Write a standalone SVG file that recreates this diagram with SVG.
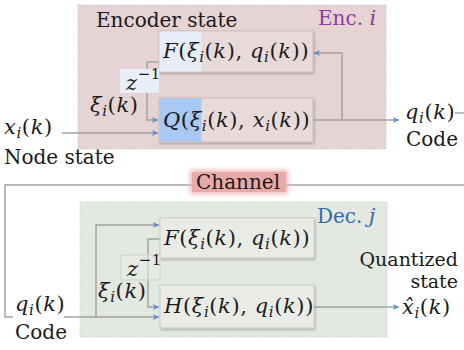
<svg xmlns="http://www.w3.org/2000/svg" width="464" height="350" viewBox="0 0 464 350">
<defs>
<style>
text{font-family:"DejaVu Serif","Liberation Serif",serif;fill:#1a1a1a}
.lbl{font-size:20px}
.m{font-size:21px;font-style:italic;letter-spacing:0.6px}
.r{font-style:normal}
.s{font-size:15px}
.q{font-size:19px}
.ln{fill:none;stroke:#a3a3a3;stroke-width:1.5}
.encbg{fill:#e6d4d4;stroke:#d6c2c2;stroke-width:1;stroke-dasharray:1.5 1.5}
.decbg{fill:#e3e8e0;stroke:#d0d6cc;stroke-width:1;stroke-dasharray:1.5 1.5}
.ebox{fill:#e9dada;stroke:#cdbcbc;stroke-width:1}
.dbox{fill:#e9ece6;stroke:#c9cdc5;stroke-width:1}
</style>
<filter id="sh" x="-10%" y="-10%" width="130%" height="140%">
<feDropShadow dx="1" dy="1.5" stdDeviation="0.8" flood-color="#000" flood-opacity="0.25"/>
</filter>
<filter id="glow" x="-20%" y="-40%" width="140%" height="180%">
<feGaussianBlur stdDeviation="2.5"/>
</filter>
<marker id="ar" markerUnits="userSpaceOnUse" markerWidth="8" markerHeight="8" refX="6" refY="4" orient="auto">
<path d="M0,1 L6,4 L0,7 L1.5,4 Z" fill="#5a8fd4"/>
</marker>
</defs>

<g id="encoder">
<rect class="encbg" x="78" y="5" width="308" height="144"/>
<text class="lbl" x="96" y="27">Encoder state</text>
<text class="lbl" x="318" y="25" style="fill:#8e3a9e">Enc. <tspan class="m" style="fill:#8e3a9e">i</tspan></text>
</g>

<g id="decoder">
<rect class="decbg" x="80" y="202" width="307" height="135"/>
<text class="lbl" x="317" y="223" style="fill:#2f6bb0">Dec. <tspan class="m" style="fill:#2f6bb0">j</tspan></text>
</g>

<g id="connectors">
<path class="ln" d="M62,133 H158" marker-end="url(#ar)"/>
<path class="ln" d="M159,62 H147 V120 H158" marker-end="url(#ar)"/>
<path class="ln" d="M313,120 H399" marker-end="url(#ar)"/>
<path class="ln" d="M342,120 V53 H314" marker-end="url(#ar)"/>
<path class="ln" d="M455,113 H464"/>
<path class="ln" d="M464,185 H286"/>
<path class="ln" d="M192,185 H5 V317 H13"/>
<path class="ln" d="M64,317 H159" marker-end="url(#ar)"/>
<path class="ln" d="M96,317 V225 H159" marker-end="url(#ar)"/>
<path class="ln" d="M160,239 H148 V307 H159" marker-end="url(#ar)"/>
<path class="ln" d="M314,307 H399" marker-end="url(#ar)"/>
</g>

<g id="enc-F">
<rect class="ebox" x="159" y="31" width="154" height="41" filter="url(#sh)"/>
<rect x="159.5" y="31.5" width="42" height="40" fill="#e7edf8"/>
<text class="m" x="163" y="58">F<tspan class="r">(</tspan>ξ<tspan class="s" dy="4">i</tspan><tspan class="r" dy="-4">(</tspan>k<tspan class="r">), </tspan>q<tspan class="s" dy="4">i</tspan><tspan class="r" dy="-4">(</tspan>k<tspan class="r">))</tspan></text>
</g>

<g id="enc-Q">
<rect class="ebox" x="159" y="98" width="154" height="44" filter="url(#sh)"/>
<rect x="159.5" y="98.5" width="42" height="43" fill="#a8c8f6"/>
<text class="m" x="163" y="127">Q<tspan class="r">(</tspan>ξ<tspan class="s" dy="4">i</tspan><tspan class="r" dy="-4">(</tspan>k<tspan class="r">), </tspan>x<tspan class="s" dy="4">i</tspan><tspan class="r" dy="-4">(</tspan>k<tspan class="r">))</tspan></text>
</g>

<g id="enc-z">
<rect x="120" y="69" width="39" height="24" fill="#e9eef8"/>
<text class="m" x="126" y="90">z<tspan class="r s" dy="-11">−1</tspan></text>
</g>

<g id="enc-labels">
<text class="m" x="4" y="134">x<tspan class="s" dy="4">i</tspan><tspan class="r" dy="-4">(</tspan>k<tspan class="r">)</tspan></text>
<text class="lbl" x="4" y="164">Node state</text>
<text class="m" x="90" y="112">ξ<tspan class="s" dy="4">i</tspan><tspan class="r" dy="-4">(</tspan>k<tspan class="r">)</tspan></text>
<text class="m" x="405" y="119">q<tspan class="s" dy="4">i</tspan><tspan class="r" dy="-4">(</tspan>k<tspan class="r">)</tspan></text>
<text class="lbl" x="406" y="146">Code</text>
</g>

<g id="channel">
<rect x="190" y="170" width="98" height="24" fill="#f0b8b8" filter="url(#glow)"/>
<rect x="192" y="172" width="94" height="20" fill="#e8a9a9"/>
<text class="lbl" x="196" y="189">Channel</text>
</g>

<g id="dec-F">
<rect class="dbox" x="160" y="218" width="154" height="40" filter="url(#sh)"/>
<text class="m" x="164" y="245">F<tspan class="r">(</tspan>ξ<tspan class="s" dy="4">i</tspan><tspan class="r" dy="-4">(</tspan>k<tspan class="r">), </tspan>q<tspan class="s" dy="4">i</tspan><tspan class="r" dy="-4">(</tspan>k<tspan class="r">))</tspan></text>
</g>

<g id="dec-H">
<rect class="dbox" x="160" y="285" width="154" height="43" filter="url(#sh)"/>
<text class="m" x="164" y="313">H<tspan class="r">(</tspan>ξ<tspan class="s" dy="4">i</tspan><tspan class="r" dy="-4">(</tspan>k<tspan class="r">), </tspan>q<tspan class="s" dy="4">i</tspan><tspan class="r" dy="-4">(</tspan>k<tspan class="r">))</tspan></text>
</g>

<g id="dec-z">
<rect x="121" y="255" width="39" height="25" fill="#e6ebe2" fill-opacity="0.6" stroke="#cfd4cb" stroke-width="1"/>
<text class="m" x="127" y="276">z<tspan class="r s" dy="-11">−1</tspan></text>
</g>

<g id="dec-labels">
<text class="m" x="15" y="311">q<tspan class="s" dy="4">i</tspan><tspan class="r" dy="-4">(</tspan>k<tspan class="r">)</tspan></text>
<text class="lbl" x="15" y="339">Code</text>
<text class="m" x="98" y="298">ξ<tspan class="s" dy="4">i</tspan><tspan class="r" dy="-4">(</tspan>k<tspan class="r">)</tspan></text>
<text class="q" x="458" y="266" text-anchor="end">Quantized</text>
<text class="q" x="458" y="288" text-anchor="end">state</text>
<text class="m" x="402" y="314">x̂<tspan class="s" dy="4">i</tspan><tspan class="r" dy="-4">(</tspan>k<tspan class="r">)</tspan></text>
</g>
</svg>
